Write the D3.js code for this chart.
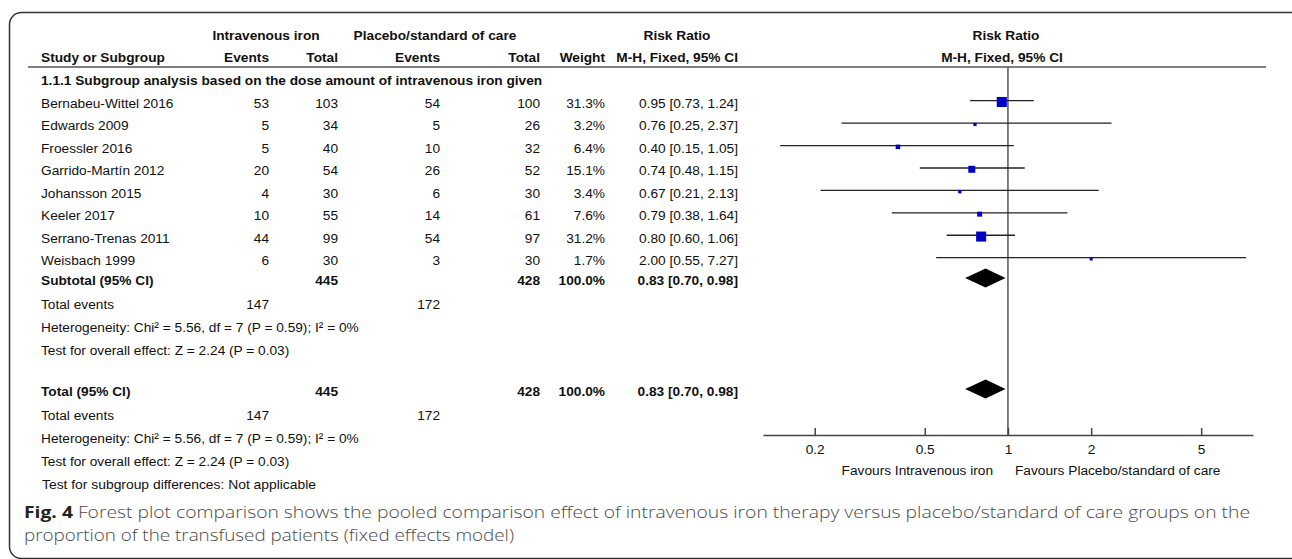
<!DOCTYPE html>
<html>
<head>
<meta charset="utf-8">
<script src="https://cdn.jsdelivr.net/npm/d3@7"></script>
<style>
  body { margin: 0; background: #fff; }
  svg { display: block; }
  text { font-family: "Liberation Sans", Arial, sans-serif; fill: #111; }
</style>
</head>
<body>
<svg id="chart" width="1292" height="559"></svg>
<script>
var studies = ["Bernabeu-Wittel 2016", "Edwards 2009", "Froessler 2016", "Garrido-Martín 2012",
               "Johansson 2015", "Keeler 2017", "Serrano-Trenas 2011", "Weisbach 1999"];
var ivEvents = [53, 5, 5, 20, 4, 10, 44, 6];
var ivTotal = [103, 34, 40, 54, 30, 55, 99, 30];
var plEvents = [54, 5, 10, 26, 6, 14, 54, 3];
var plTotal = [100, 26, 32, 52, 30, 61, 97, 30];
var weights = [31.3, 3.2, 6.4, 15.1, 3.4, 7.6, 31.2, 1.7];
var rr = [0.95, 0.76, 0.40, 0.74, 0.67, 0.79, 0.80, 2.00];
var lower = [0.73, 0.25, 0.15, 0.48, 0.21, 0.38, 0.60, 0.55];
var upper = [1.24, 2.37, 1.05, 1.15, 2.13, 1.64, 1.06, 7.27];
var pooled = [0.83, 0.70, 0.98];   // rr, lower, upper
var sumIvTotal = 445, sumPlTotal = 428, sumIvEvents = 147, sumPlEvents = 172;
var tickValues = [0.2, 0.5, 1, 2, 5];

var FS = 13.7;
var svg = d3.select("#chart");

// frame
svg.append("rect")
  .attr("x", 9.5).attr("y", 12.5)
  .attr("width", 1300).attr("height", 546)
  .attr("rx", 12).attr("ry", 12)
  .style("fill", "none").style("stroke", "#333").style("stroke-width", 1.5);

// columns, right edges (study name is left aligned)
var col = { name: 41, ivE: 269, ivT: 338, plE: 440, plT: 540, w: 605, ci: 738 };

function txt(x, y, s, anchor, bold, size) {
  return svg.append("text")
    .attr("x", x).attr("y", y + 0.36 * (size || FS))
    .attr("text-anchor", anchor || "start")
    .style("font-size", (size || FS) + "px")
    .style("font-weight", bold ? "bold" : "normal")
    .text(s);
}

// header
txt(266, 35, "Intravenous iron", "middle", true);
txt(435, 35, "Placebo/standard of care", "middle", true);
txt(677, 35, "Risk Ratio", "middle", true);
txt(1006, 35, "Risk Ratio", "middle", true);
txt(col.name, 57, "Study or Subgroup", "start", true);
txt(col.ivE, 57, "Events", "end", true);
txt(col.ivT, 57, "Total", "end", true);
txt(col.plE, 57, "Events", "end", true);
txt(col.plT, 57, "Total", "end", true);
txt(col.w, 57, "Weight", "end", true);
txt(col.ci, 57, "M-H, Fixed, 95% CI", "end", true);
txt(1002, 57, "M-H, Fixed, 95% CI", "middle", true);

svg.append("line")
  .attr("x1", 28).attr("x2", 1266).attr("y1", 67).attr("y2", 67)
  .style("stroke", "#555").style("stroke-width", 1.5);

txt(col.name, 80, "1.1.1 Subgroup analysis based on the dose amount of intravenous iron given", "start", true);

var fmt = d3.format(".2f");
var y = d3.scaleLinear().domain([0, studies.length - 1]).range([103, 260]);
var x = d3.scaleLog().domain([0.13, 7.7]).range([763, 1253]);

// study rows
studies.forEach(function(s, i) {
  var yy = y(i);
  txt(col.name, yy, s);
  txt(col.ivE, yy, ivEvents[i], "end");
  txt(col.ivT, yy, ivTotal[i], "end");
  txt(col.plE, yy, plEvents[i], "end");
  txt(col.plT, yy, plTotal[i], "end");
  txt(col.w, yy, weights[i].toFixed(1) + "%", "end");
  txt(col.ci, yy, fmt(rr[i]) + " [" + fmt(lower[i]) + ", " + fmt(upper[i]) + "]", "end");
});

// null line
svg.append("line")
  .attr("x1", x(1)).attr("x2", x(1)).attr("y1", 67).attr("y2", 435)
  .style("stroke", "#555").style("stroke-width", 1.5);

// CIs and squares
var g = svg.append("g");
g.selectAll(".ci").data(studies).enter().append("line")
  .attr("class", "ci")
  .attr("x1", function(d, i) { return x(lower[i]); })
  .attr("x2", function(d, i) { return x(upper[i]); })
  .attr("y1", function(d, i) { return y(i) - 2.3; })
  .attr("y2", function(d, i) { return y(i) - 2.3; })
  .style("stroke", "#222").style("stroke-width", 1.3);

g.selectAll(".sq").data(studies).enter().append("rect")
  .attr("class", "sq")
  .each(function(d, i) {
    var side = Math.max(3, 1.8 * Math.sqrt(weights[i]));
    d3.select(this)
      .attr("x", x(rr[i]) - side / 2)
      .attr("y", y(i) - 1 - side / 2)
      .attr("width", side).attr("height", side);
  })
  .style("fill", "#0000c4");

function diamond(yc) {
  var pts = [[x(pooled[1]), yc], [x(pooled[0]), yc - 9.5], [x(pooled[2]), yc], [x(pooled[0]), yc + 9.5]];
  svg.append("path")
    .attr("d", d3.line()(pts) + "Z")
    .style("fill", "#000");
}

// subtotal block
function summaryRows(yc, label) {
  txt(col.name, yc, label, "start", true);
  txt(col.ivT, yc, sumIvTotal, "end", true);
  txt(col.plT, yc, sumPlTotal, "end", true);
  txt(col.w, yc, "100.0%", "end", true);
  txt(col.ci, yc, fmt(pooled[0]) + " [" + fmt(pooled[1]) + ", " + fmt(pooled[2]) + "]", "end", true);
  diamond(yc - 2);
  txt(col.name, yc + 24, "Total events");
  txt(col.ivE, yc + 24, sumIvEvents, "end");
  txt(col.plE, yc + 24, sumPlEvents, "end");
  txt(col.name, yc + 47, "Heterogeneity: Chi\u00b2 = 5.56, df = 7 (P = 0.59); I\u00b2 = 0%");
  txt(col.name, yc + 70, "Test for overall effect: Z = 2.24 (P = 0.03)");
}
summaryRows(280, "Subtotal (95% CI)");
summaryRows(391, "Total (95% CI)");

txt(42, 484, "Test for subgroup differences: Not applicable")
  .style("font-family", "'Liberation Sans Narrow', 'Arial Narrow', sans-serif")
  .style("font-size", "13px")
  .attr("textLength", 274).attr("lengthAdjust", "spacingAndGlyphs");

// axis
var axis = d3.axisBottom(x).tickValues(tickValues).tickFormat(d3.format("")).tickSize(-7).tickSizeOuter(0);
var ax = svg.append("g").attr("transform", "translate(0,435)").call(axis);
ax.select(".domain").style("stroke", "#444").style("stroke-width", 1.5);
ax.selectAll(".tick line").style("stroke", "#444").style("stroke-width", 1.5);
ax.selectAll(".tick text")
  .attr("y", 9).attr("dy", "0.71em")
  .style("font-family", "'Liberation Sans', Arial, sans-serif")
  .style("font-size", FS + "px").style("fill", "#111");

txt(993, 470, "Favours Intravenous iron", "end");
txt(1015, 470, "Favours Placebo/standard of care", "start");

// caption
var cap1 = svg.append("text").attr("x", 24).attr("y", 518)
  .style("font-family", "'Open Sans', 'Noto Sans', sans-serif").style("font-size", "16px")
  .attr("textLength", 1226).attr("lengthAdjust", "spacingAndGlyphs");
cap1.append("tspan").style("font-weight", "bold").style("fill", "#222").text("Fig. 4");
cap1.append("tspan").style("fill", "#4a4a4a").style("font-weight", "300")
  .text(" Forest plot comparison shows the pooled comparison effect of intravenous iron therapy versus placebo/standard of care groups on the");
svg.append("text").attr("x", 24).attr("y", 541)
  .style("font-family", "'Open Sans', 'Noto Sans', sans-serif").style("font-size", "16px")
  .style("fill", "#4a4a4a").style("font-weight", "300")
  .attr("textLength", 490).attr("lengthAdjust", "spacingAndGlyphs")
  .text("proportion of the transfused patients (fixed effects model)");
</script>
</body>
</html>
